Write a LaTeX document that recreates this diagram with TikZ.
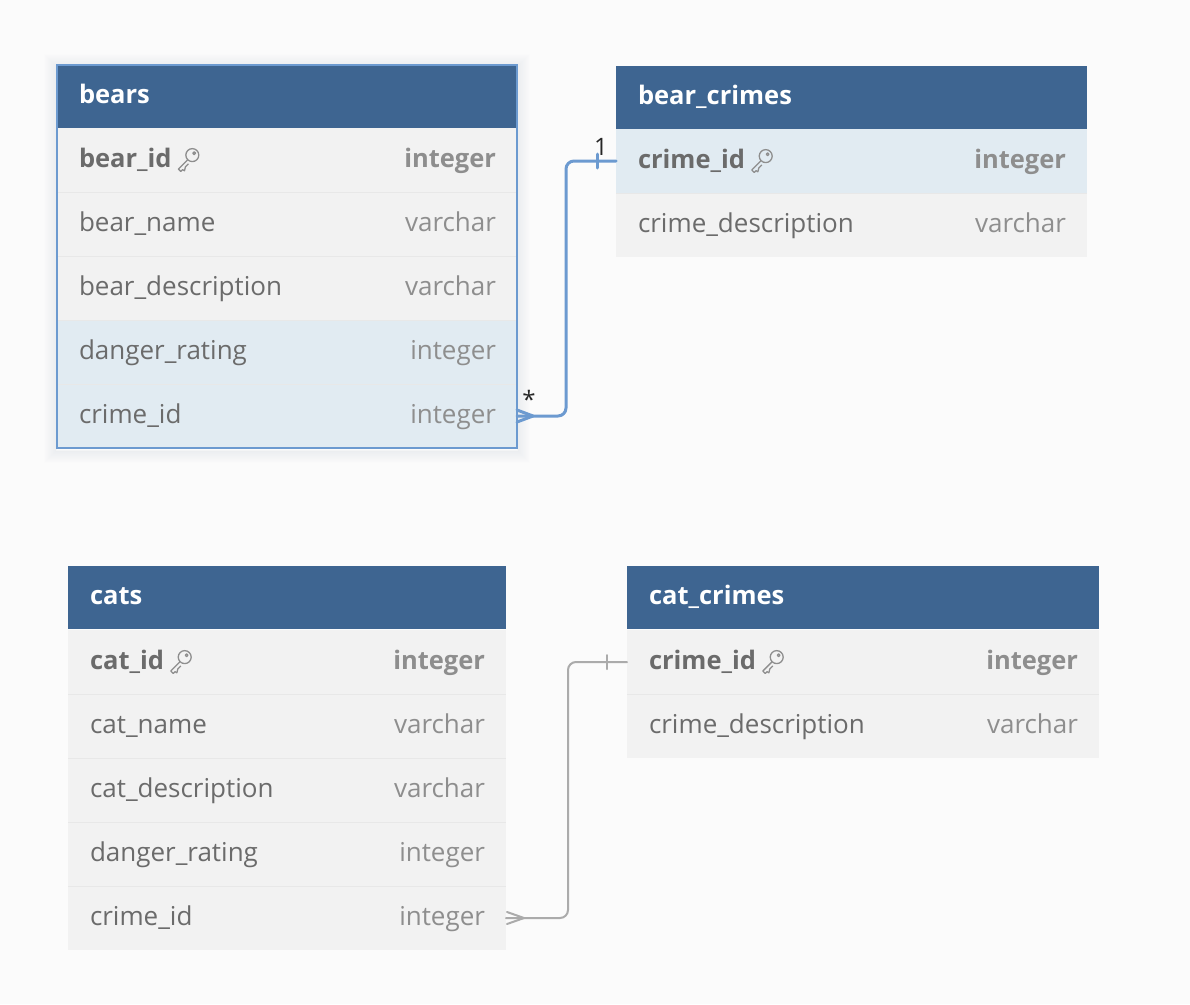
\documentclass[tikz,border=0pt]{standalone}
\usepackage{fontspec}
\setmainfont{Open Sans}

\definecolor{canvas}{HTML}{FBFBFB}
\definecolor{hdrblue}{HTML}{3E6591}
\definecolor{rowgray}{HTML}{F2F2F2}
\definecolor{rowhl}{HTML}{E1EBF2}
\definecolor{fieldtxt}{HTML}{6B6B6B}
\definecolor{typetxt}{HTML}{8E8E8E}
\definecolor{selblue}{HTML}{6C9AD0}
\definecolor{relgray}{HTML}{ABABAB}
\definecolor{sepgray}{HTML}{E8E8E8}
\definecolor{glow}{HTML}{5A7090}

\pgfdeclarelayer{bg}
\pgfsetlayers{bg,main}

\tikzset{
  base/.style={font=\fontsize{26}{31}\selectfont, inner sep=0pt, outer sep=0pt},
  hdrbox/.style={rectangle, fill=hdrblue, minimum height=63pt, inner sep=0pt, outer sep=0pt},
  hdrtext/.style={base, text=white, font=\fontsize{25.5}{30}\selectfont\bfseries},
  rowbox/.style={rectangle, minimum height=64pt, inner sep=0pt, outer sep=0pt},
  plain/.style={fill=rowgray},
  hl/.style={fill=rowhl},
  fld/.style={base, text=fieldtxt},
  fldtype/.style={base, text=typetxt},
  key/.style={base, text=fieldtxt, font=\fontsize{25.5}{30}\selectfont\bfseries},
  keytype/.style={base, text=typetxt, font=\fontsize{25.5}{30}\selectfont\bfseries},
  sepline/.style={draw=sepgray, line width=0.8pt},
  relblue/.style={draw=selblue, line width=3pt, line cap=round, line join=round},
  relgrey/.style={draw=relgray, line width=2pt, line cap=round, line join=round},
  cardlabel/.style={base, text=black!85, font=\fontsize{24}{28}\selectfont},
  keyicon/.pic={
    \draw[typetxt, line width=1.3pt, line join=round, scale=1.35]
      (3.5,-3.5) circle (4.8)
      (4.9,-4.9) circle (1.0)
      (-0.2,0.2) -- (-6.8,6.8) -- (-5.0,8.6) -- (-3.7,7.3) -- (-2.3,8.1) -- (-1.6,5.2) -- (0.6,3.0);
  }
}

% one table row: name, left x, top y, width, fill style, field, type, text style
\newcommand\erow[8]{%
  \node[rowbox,#5,minimum width=#4pt,anchor=north west] (#1) at (#2,#3) {};
  \node[#8,anchor=base west] (#1-f) at ([xshift=22pt,yshift=-7.5pt]#1.west) {#6};
  \node[#8type,anchor=base east] (#1-t) at ([xshift=-21pt,yshift=-7.5pt]#1.east) {#7};}

% table header: name, left x, top y, width, title
\newcommand\erhead[5]{%
  \node[hdrbox,minimum width=#4pt,anchor=north west] (#1) at (#2,#3) {};
  \node[hdrtext,anchor=base west] (#1-title) at ([xshift=22pt,yshift=-6.5pt]#1.west) {#5};}

\begin{document}
\begin{tikzpicture}[x=1pt,y=-1pt]
\useasboundingbox (0,0) rectangle (1190,1004);

% ---- bears ----
\erhead{bears}{57}{65}{460}{bears}
\erow{bears-1}{57}{128}{460}{plain}{bear\_id}{integer}{key}
\erow{bears-2}{57}{192}{460}{plain}{bear\_name}{varchar}{fld}
\erow{bears-3}{57}{256}{460}{plain}{bear\_description}{varchar}{fld}
\erow{bears-4}{57}{320}{460}{hl}{danger\_rating}{integer}{fld}
\erow{bears-5}{57}{384}{460}{hl}{crime\_id}{integer}{fld}

% ---- bear_crimes ----
\erhead{bc}{616}{66}{471}{bear\_crimes}
\erow{bc-1}{616}{129}{471}{hl}{crime\_id}{integer}{key}
\erow{bc-2}{616}{193}{471}{plain}{crime\_description}{varchar}{fld}

% ---- cats ----
\erhead{cats}{68}{566}{438}{cats}
\erow{cats-1}{68}{630}{438}{plain}{cat\_id}{integer}{key}
\erow{cats-2}{68}{694}{438}{plain}{cat\_name}{varchar}{fld}
\erow{cats-3}{68}{758}{438}{plain}{cat\_description}{varchar}{fld}
\erow{cats-4}{68}{822}{438}{plain}{danger\_rating}{integer}{fld}
\erow{cats-5}{68}{886}{438}{plain}{crime\_id}{integer}{fld}

% ---- cat_crimes ----
\erhead{cc}{627}{566}{472}{cat\_crimes}
\erow{cc-1}{627}{630}{472}{plain}{crime\_id}{integer}{key}
\erow{cc-2}{627}{694}{472}{plain}{crime\_description}{varchar}{fld}

% faint row separators
\foreach \t/\n in {bears/5,bc/2,cats/5,cc/2}
  \foreach \i in {2,...,\n}
    \draw[sepline] (\t-\i.north west) -- (\t-\i.north east);

% primary key icons
\foreach \k in {bears-1,bc-1,cats-1,cc-1}
  \pic at ([xshift=16pt,yshift=0pt]\k-f.east) {keyicon};

% canvas and soft glow round the selected table
\begin{pgfonlayer}{bg}
  \fill[canvas] (0,0) rectangle (1190,1004);
  \foreach \r in {1,...,12}
    \draw[glow, line width=1.2pt, opacity={0.05*(1-\r/13)}]
      ([shift={(-\r,-\r+2)}]bears.north west) rectangle ([shift={(\r,\r+2)}]bears-5.south east);
\end{pgfonlayer}

% selected table outline
\draw[selblue, line width=2.2pt] (bears.north west) rectangle (bears-5.south east);

% bears.crime_id  *--1  bear_crimes.crime_id
\draw[relblue, rounded corners=8pt] (bears-5.east) -- ++(49,0) |- (bc-1.west);
\draw[relblue] (bears-5.east) ++(16,0) -- ++(-16,-6)
               (bears-5.east) ++(16,0) -- ++(-16,6);
\draw[relblue] (bc-1.west) ++(-19,-7) -- ++(0,14);
\node[cardlabel, anchor=center] (many1) at ([xshift=12pt,yshift=17pt]bears-5.east) {*};
\node[cardlabel, anchor=center] (one1) at ([xshift=-15pt,yshift=14pt]bc-1.west) {1};

% cats.crime_id  >--|  cat_crimes.crime_id
\draw[relgrey, rounded corners=8pt] (cats-5.east) -- ++(62,0) |- (cc-1.west);
\draw[relgrey] (cats-5.east) ++(18,0) -- ++(-17,-6)
               (cats-5.east) ++(18,0) -- ++(-17,6);
\draw[relgrey] (cc-1.west) ++(-20,-7) -- ++(0,14);

\end{tikzpicture}
\end{document}
